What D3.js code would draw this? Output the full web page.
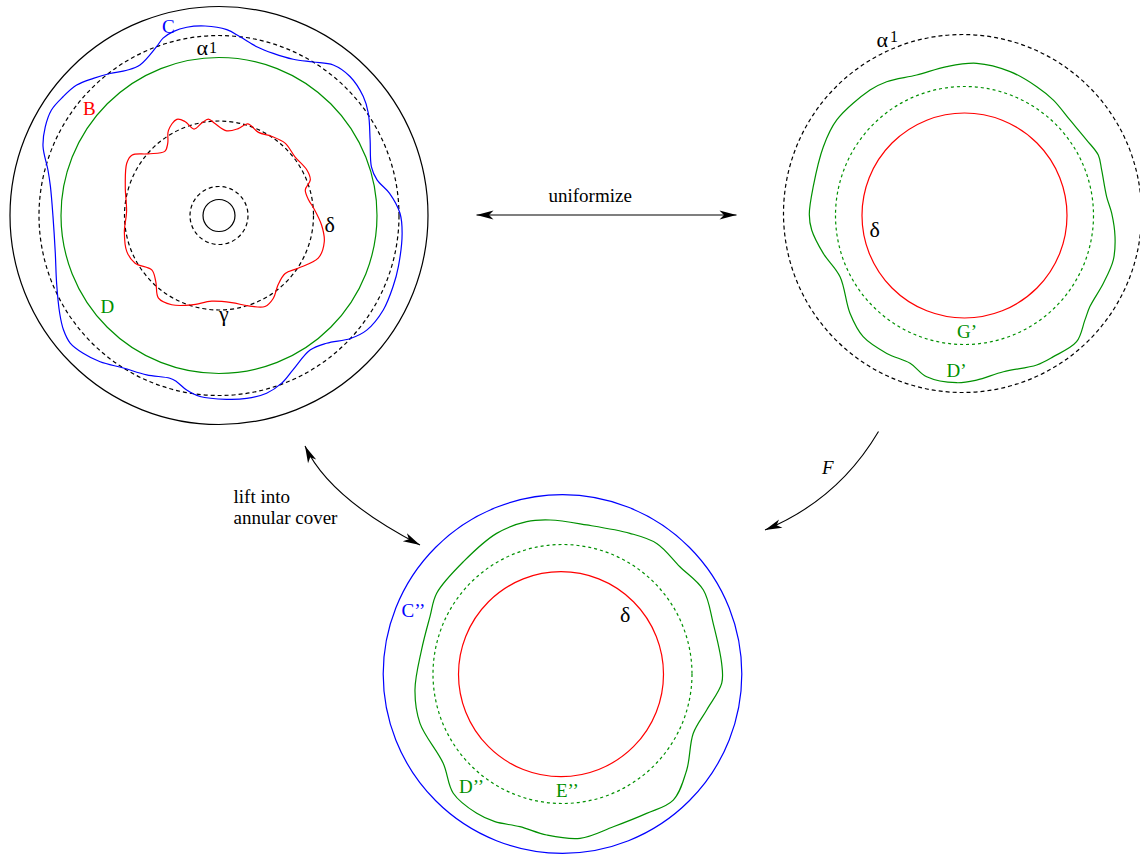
<!DOCTYPE html>
<html><head><meta charset="utf-8">
<script src="https://cdn.jsdelivr.net/npm/d3@7"></script>
<style>body{margin:0;background:#fff}svg{display:block}</style>
</head><body>
<svg id="c" width="1140" height="854"></svg>
<script>
// ================= DATA =================
// closed curves sampled as [angle in degrees clockwise from top, radius]
const curveC = [[2.4,186],[6.7,180],[12.6,173],[18.5,171],[25.4,173],[31.5,180],[37.2,189],[43.3,191],[50.5,187],[55.6,181],[63.4,169],[72.3,160],[77.3,162],[82.6,172],[89.3,181],[95.6,184],[105.9,186.5],[112.2,188],[119.9,189.5],[127.8,187],[133.1,180],[139.9,167],[145.9,162.5],[154.3,171],[159.5,179],[165,184],[171.4,185],[177.6,184],[186,182],[190.5,177.5],[194.3,171.5],[196.8,170],[204.4,175],[212.1,180],[219.1,188.5],[224.6,193.5],[229.4,196],[233.7,193],[238.4,187],[247.3,176],[257,168],[269.6,166],[279.7,171],[284.9,177],[291.4,189],[297,195],[302.2,198],[307.3,196],[312.5,193],[317.5,186],[322.5,179],[327.6,172],[332.3,170],[339.7,180],[342.5,186],[346,189.5],[350.3,191],[355.8,190]];
const curveB = [[5.2,85],[12.5,89],[17.4,96],[25.4,92],[33.5,95],[42.4,98],[52.3,96],[62.6,99],[68.7,98],[73.5,90],[80.2,91],[85.6,95],[95.3,103],[104,108.5],[113.3,108],[123.7,95],[131.2,88],[139.5,91],[146.7,99],[153.2,102],[162,95],[171.7,88],[184.9,86],[197,93.5],[207.9,101],[216.2,102.5],[223.7,91.5],[231,86.5],[240.4,96.5],[248.6,99],[260.3,96],[272.4,92.5],[287,98],[299.5,106],[304.7,106],[311,94],[319.8,84],[324.6,88.5],[329.3,99],[336.3,105],[340.1,100],[343.9,90],[349.4,94],[353.7,97],[357.5,92]];
const curveDp = [[4.6,152.7],[17.6,151],[29.3,147.7],[37.6,145.7],[47.8,142.3],[58.3,143.6],[65.7,146.8],[71.7,144.5],[82.5,143.4],[89.1,147.2],[98,152],[106.6,155.3],[116,154.5],[126,155],[131,159.5],[138.4,168.8],[147.8,166.8],[154.2,166],[166,161],[175.8,165],[182.7,167.4],[193.2,165.6],[200.2,157.5],[209.4,158.3],[219.9,158],[229.5,150.6],[243.8,138.7],[255,146.2],[264.6,153.5],[270.4,155.2],[280.8,154],[295.9,157],[306.8,159.5],[323,157],[329.8,154.8],[341.2,148.4],[353.2,150]];
const curveDpp = [[355.4,154.5],[9.2,151],[25.6,156],[35.8,161],[47.6,159],[59.2,164],[71.4,159],[86.2,159.5],[93.3,159.5],[104,148.6],[114.4,143.6],[127.7,157],[138.7,167.8],[148.9,162.8],[161.6,161],[173.9,165.3],[185.6,161.8],[195.6,158.5],[204.6,162.4],[211.6,163.6],[222.5,161.7],[233.2,149],[250.9,150.8],[263.8,148.4],[279.7,143],[293.4,144.4],[302.7,149.5],[318.6,149.8],[334.9,155.3],[346.8,156.5]];
// plain circles: [figure, radius, kind]
const circles = [
  ["fig1",209,"solid-black"],["fig1",180,"dash-black"],["fig1",158,"solid-green"],
  ["fig1",94.5,"dash-black"],["fig1",29,"dash-black"],["fig1",16,"solid-black"],
  ["fig2a",179,"dash-black"],["fig2",102.5,"solid-red"],["fig2",129,"dash-green"],
  ["fig3",179.3,"solid-blue"],["fig3r",102.5,"solid-red"],["fig3",129.5,"dash-green"]
];
// labels: [text, anchor key, colour, greek?]
const labels = [
  ["C","C","blue",0],["B","B","red",0],["D","D","green",0],["δ","d1","black",1],["γ","g1","black",1],
  ["δ","d2","black",1],["G’","G2","green",0],["D’","D2","green",0],
  ["C’’","C3","blue",0],["δ","d3","black",1],["D’’","D3","green",0],["E’’","E3","green",0]
];
const alphaLabels = ["α","α"];
const captionUniformize = "uniformize";
const captionLift = ["lift into","annular cover"];
const captionF = "F";

// ================= LAYOUT / STYLE =================
const centers = {fig1:[219,215.5], fig2:[964.5,215.5], fig2a:[962.5,213.5], fig3:[562.5,674], fig3r:[561,674.2]};
const colors = {black:"#000", blue:"#0000ff", red:"#ff0000", green:"#009000"};
const labelPos = {C:[162,33],B:[83,115],D:[100.5,313],d1:[324.5,231.5],g1:[219,321],
  d2:[869.5,236.5],G2:[957,338],D2:[946.5,376.5],
  C3:[401.5,616.5],d3:[620,621.5],D3:[459,793],E3:[556,796.5]};
const FONT = "'Liberation Serif','Times New Roman',serif";

const svg = d3.select("#c");
const r = d3.scaleLinear().domain([0,100]).range([0,100]);
const toRad = d3.scaleLinear().domain([0,360]).range([0,2*Math.PI]);

const defs = svg.append("defs");
defs.append("marker").attr("id","ah").attr("viewBox","-18 -6 20 12")
  .attr("refX",0).attr("refY",0).attr("markerWidth",20).attr("markerHeight",12)
  .attr("markerUnits","userSpaceOnUse").attr("orient","auto-start-reverse")
  .append("path").attr("d","M0,0 L-17,-4.5 L-12.5,0 L-17,4.5 Z").attr("fill","#000");

// circles
svg.append("g").selectAll("circle").data(circles).join("circle")
  .attr("cx",d=>centers[d[0]][0]).attr("cy",d=>centers[d[0]][1]).attr("r",d=>r(d[1]))
  .attr("fill","none")
  .attr("stroke",d=>colors[d[2].split("-")[1]])
  .attr("stroke-width",1.2)
  .attr("stroke-dasharray",d=>d[2].startsWith("dash") ? (d[2].endsWith("green")?"3,3":"4,3") : null);

// wavy curves
const radial = d3.lineRadial().angle(d=>toRad(d[0])).radius(d=>r(d[1]))
  .curve(d3.curveCatmullRomClosed.alpha(0.5));
const curves = [[curveC,"fig1","blue"],[curveB,"fig1","red"],[curveDp,"fig2","green"],[curveDpp,"fig3","green"]];
svg.append("g").selectAll("path").data(curves).join("path")
  .attr("transform",d=>`translate(${centers[d[1]][0]},${centers[d[1]][1]})`)
  .attr("d",d=>radial(d3.sort(d[0],p=>p[0])))
  .attr("fill","none").attr("stroke",d=>colors[d[2]]).attr("stroke-width",1.2);

// labels
svg.append("g").selectAll("text").data(labels).join("text")
  .attr("x",d=>labelPos[d[1]][0]).attr("y",d=>labelPos[d[1]][1])
  .attr("fill",d=>colors[d[2]]).attr("font-family",FONT).attr("font-size",d=>d[3]?22:19)
  .text(d=>d[0]);

// alpha^1 labels
const alphaPos = [[196.5,54.5,209,52.5],[876.5,47,890,41.5]];
alphaLabels.forEach((a,i)=>{
  const p = alphaPos[i];
  svg.append("text").attr("x",p[0]).attr("y",p[1]).attr("font-family",FONT).attr("font-size",22).text(a);
  svg.append("text").attr("x",p[2]).attr("y",p[3]).attr("font-family",FONT).attr("font-size",16).text("1");
});

// arrows
const arrowG = svg.append("g").attr("fill","none").attr("stroke","#000").attr("stroke-width",1.1);
const p1 = d3.path(); p1.moveTo(476.5,215); p1.lineTo(736.5,215);
arrowG.append("path").attr("d",p1.toString()).attr("marker-start","url(#ah)").attr("marker-end","url(#ah)");
const p2 = d3.path(); p2.moveTo(305,446); p2.quadraticCurveTo(329,498,420,545);
arrowG.append("path").attr("d",p2.toString()).attr("marker-start","url(#ah)").attr("marker-end","url(#ah)");
const p3 = d3.path(); p3.moveTo(878.5,431.5); p3.quadraticCurveTo(838,500,765,530);
arrowG.append("path").attr("d",p3.toString()).attr("marker-end","url(#ah)");

// captions
svg.append("text").attr("x",548.5).attr("y",201.5).attr("font-family",FONT).attr("font-size",19).text(captionUniformize);
svg.append("g").selectAll("text").data(captionLift).join("text")
  .attr("x",233.5).attr("y",(d,i)=>502.5+i*21.5).attr("font-family",FONT).attr("font-size",19).text(d=>d);
svg.append("text").attr("x",822).attr("y",474).attr("font-family",FONT).attr("font-size",19)
  .attr("font-style","italic").text(captionF);
</script>
</body></html>
